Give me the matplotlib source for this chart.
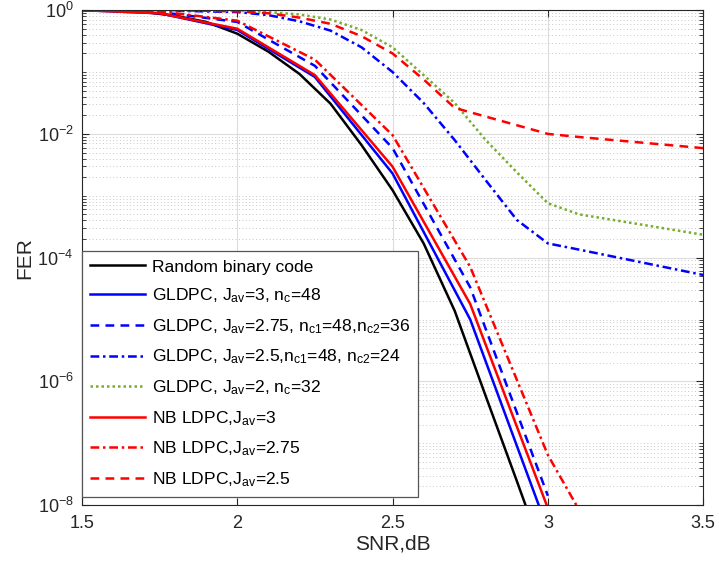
import matplotlib
matplotlib.use('Agg')
import matplotlib.pyplot as plt
import numpy as np
from matplotlib.ticker import FixedLocator, LogFormatterSciNotation, NullFormatter

plt.rcParams['font.family'] = ['Liberation Sans', 'DejaVu Sans']
plt.rcParams['mathtext.fontset'] = 'custom'
plt.rcParams['mathtext.rm'] = 'Liberation Sans'
plt.rcParams['mathtext.it'] = 'Liberation Sans:italic'
plt.rcParams['mathtext.bf'] = 'Liberation Sans:bold'

# log10(FER)
snr_rand = [1.5, 1.6, 1.7, 1.8, 1.9, 2.0, 2.1, 2.2, 2.3, 2.4, 2.5, 2.6, 2.7, 2.8, 2.9, 3.0]
lg_rand = [0, -0.01, -0.03, -0.09, -0.19, -0.38, -0.67, -1.03, -1.51, -2.18, -2.91, -3.77, -4.86, -6.24, -7.61, -9.0]

snr_q = [1.5, 1.75, 2.0, 2.25, 2.5, 2.75, 3.0, 3.25]
lg_gl3 = [0, -0.05, -0.32, -1.08, -2.64, -5.0, -8.4]
lg_gl275 = [0, -0.03, -0.19, -0.90, -2.23, -4.48, -7.85]
lg_nb3 = [0, -0.05, -0.30, -1.05, -2.53, -4.75, -8.05]
lg_nb275 = [0, -0.02, -0.17, -0.80, -2.02, -4.15, -7.19, -9.4]

snr_d = [1.5, 1.6, 1.7, 1.8, 1.9, 2.0, 2.1, 2.2, 2.3, 2.4, 2.5, 2.6, 2.7, 2.8, 2.9, 3.0, 3.1, 3.5]
lg_gl25 = [0, 0, 0, -0.01, -0.02, -0.03, -0.08, -0.18, -0.33, -0.6, -1.0, -1.5, -2.1, -2.75, -3.39, -3.77, -3.87, -4.28]
lg_gl2 = [0, 0, 0, 0, 0, -0.01, -0.03, -0.07, -0.15, -0.32, -0.6, -1.05, -1.5, -2.1, -2.62, -3.12, -3.3, -3.63]
lg_nb25 = [0, 0, 0, 0, -0.01, -0.02, -0.05, -0.12, -0.22, -0.42, -0.7, -1.12, -1.58, -1.72, -1.86, -2.0, -2.05, -2.23]

green = (0.466, 0.674, 0.188)

fig = plt.figure(figsize=(7.19, 5.65), dpi=100)
ax = fig.add_axes([0.114, 0.106, 0.864, 0.876])

def p(x, lg):
    return np.array(x[:len(lg)]), 10.0 ** np.array(lg)

lw = 1.8
ax.semilogy(*p(snr_rand, lg_rand), color='black', lw=lw, label='Random binary code')
ax.semilogy(*p(snr_q, lg_gl3), color='blue', lw=lw, label='GLDPC, J$_{\\mathrm{av}}$=3, n$_{\\mathrm{c}}$=48')
ax.semilogy(*p(snr_q, lg_gl275), color='blue', lw=lw, ls=(0, (3.5, 2.5)),
            label='GLDPC, J$_{\\mathrm{av}}$=2.75, n$_{\\mathrm{c1}}$=48,n$_{\\mathrm{c2}}$=36')
ax.semilogy(*p(snr_d, lg_gl25), color='blue', lw=lw, ls=(0, (3.5, 1.5, 1, 1.5)),
            label='GLDPC, J$_{\\mathrm{av}}$=2.5,n$_{\\mathrm{c1}}$=48, n$_{\\mathrm{c2}}$=24')
ax.semilogy(*p(snr_d, lg_gl2), color=green, lw=lw, ls=(0, (1, 1.2)),
            label='GLDPC, J$_{\\mathrm{av}}$=2, n$_{\\mathrm{c}}$=32')
ax.semilogy(*p(snr_q, lg_nb3), color='red', lw=lw, label='NB LDPC,J$_{\\mathrm{av}}$=3')
ax.semilogy(*p(snr_q, lg_nb275), color='red', lw=lw, ls=(0, (3.5, 1.5, 1, 1.5)),
            label='NB LDPC,J$_{\\mathrm{av}}$=2.75')
ax.semilogy(*p(snr_d, lg_nb25), color='red', lw=lw, ls=(0, (3.5, 2.5)),
            label='NB LDPC,J$_{\\mathrm{av}}$=2.5')

ax.set_xlim(1.5, 3.5)
ax.set_ylim(1e-8, 1)
ax.set_xticks([1.5, 2, 2.5, 3, 3.5])
ax.set_xticklabels(['1.5', '2', '2.5', '3', '3.5'])
majors = [10.0 ** k for k in range(-8, 1, 2)]
minors = [m * 10.0 ** k for k in range(-8, 0) for m in range(1, 10) if not (m == 1 and k % 2 == 0)]
ax.yaxis.set_major_locator(FixedLocator(majors))
ax.yaxis.set_major_formatter(LogFormatterSciNotation())
ax.yaxis.set_minor_locator(FixedLocator(minors))
ax.yaxis.set_minor_formatter(NullFormatter())

ax.grid(True, which='major', color='#dcdcdc', lw=0.8, ls='-')
ax.grid(True, which='minor', axis='y', color='#c8c8c8', lw=0.7, ls=(0, (1, 2.5)))
ax.set_axisbelow(True)

tc = '#262626'
ax.tick_params(which='both', direction='in', top=True, right=True, colors=tc, labelsize=13)
ax.tick_params(which='major', length=5)
ax.tick_params(which='minor', length=3)
ax.tick_params(axis='x', pad=7)
ax.tick_params(axis='y', pad=6)
for s in ax.spines.values():
    s.set_color(tc)
    s.set_linewidth(0.8)

ax.set_xlabel('SNR,dB', fontsize=15, color=tc, labelpad=2)
ax.set_ylabel('FER', fontsize=15, color=tc, labelpad=2)

leg = ax.legend(loc='lower left', bbox_to_anchor=(0, 0.016), fontsize=12.6, frameon=True,
                fancybox=False, borderaxespad=0.0, handlelength=3.1, labelspacing=0.68,
                borderpad=0.48, handletextpad=0.4)
leg.get_frame().set_edgecolor('#555555')
leg.get_frame().set_linewidth(0.9)
leg.get_frame().set_alpha(1.0)

fig.savefig('out.png', dpi=100)
